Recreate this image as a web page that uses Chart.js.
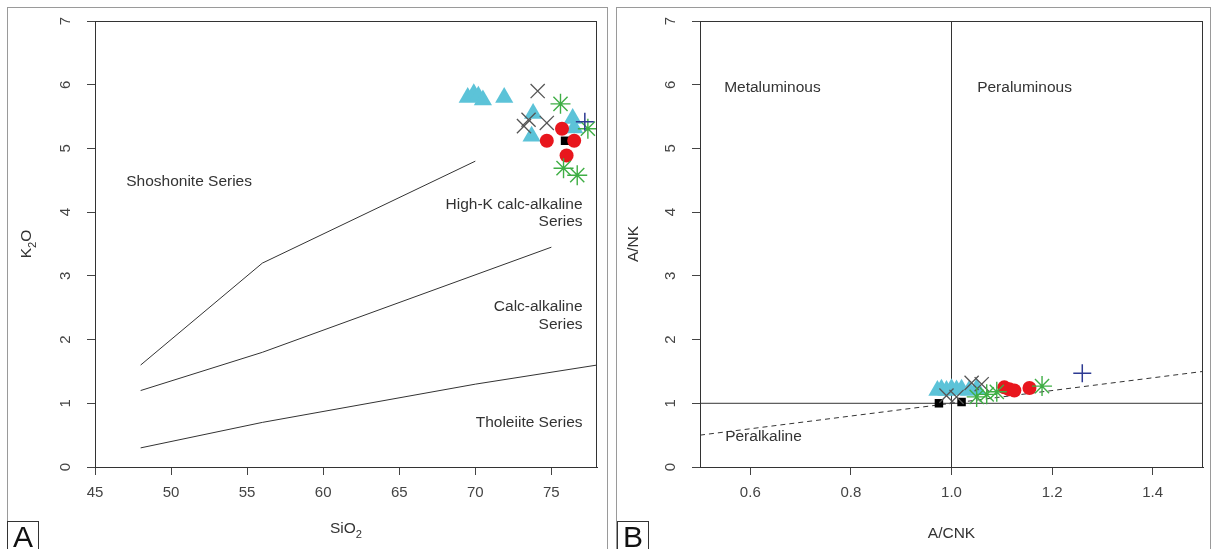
<!DOCTYPE html>
<html>
<head>
<meta charset="utf-8">
<script src="https://cdn.jsdelivr.net/npm/chart.js@4.4.1/dist/chart.umd.min.js"></script>
<style>
  body { margin: 0; width: 1216px; height: 549px; background: #fff; position: relative; overflow: hidden; }
  .panel { position: absolute; border: 1px solid #9a9a9a; box-sizing: border-box; }
  canvas { position: absolute; }
  .tag { position: absolute; border: 1px solid #333; box-sizing: border-box; background: #fff;
         font: 30px "Liberation Sans", Arial, sans-serif; color: #111; text-align: center; line-height: 30px; }
</style>
</head>
<body>
<div class="panel" style="left:7px;top:7px;width:601px;height:560px"></div>
<div class="panel" style="left:616px;top:7px;width:595px;height:560px"></div>
<canvas id="chartA" width="600" height="542" style="left:7px;top:7px"></canvas>
<canvas id="chartB" width="594" height="542" style="left:616px;top:7px"></canvas>
<div class="tag" style="left:7px;top:521px;width:32px;height:34px">A</div>
<div class="tag" style="left:617px;top:521px;width:32px;height:34px">B</div>
<script>
const FONT = '"Liberation Sans", Arial, sans-serif';

// tick values
const yTicks = [0, 1, 2, 3, 4, 5, 6, 7];
const xTicksA = [45, 50, 55, 60, 65, 70, 75];
const xTicksB = [0.6, 0.8, 1.0, 1.2, 1.4];

// panel A: SiO2 vs K2O boundary lines
const shoLineSiO2 = [48, 56, 70];
const shoLineK2O = [1.6, 3.2, 4.8];
const hkLineSiO2 = [48, 56, 75];
const hkLineK2O = [1.2, 1.8, 3.45];
const thLineSiO2 = [48, 56, 70, 78];
const thLineK2O = [0.3, 0.7, 1.3, 1.6];

// panel A samples
const triSiO2 = [69.5, 69.9, 70.2, 70.5, 71.9, 73.8, 73.7, 76.4, 76.5];
const triK2O = [5.8, 5.86, 5.82, 5.76, 5.8, 5.55, 5.19, 5.47, 5.32];
const crossSiO2 = [74.1, 73.2, 73.5, 74.7];
const crossK2O = [5.9, 5.35, 5.45, 5.4];
const dotSiO2 = [74.7, 75.7, 76.5, 76.0];
const dotK2O = [5.12, 5.31, 5.12, 4.89];
const starSiO2 = [75.6, 77.4, 75.8, 76.7];
const starK2O = [5.7, 5.31, 4.69, 4.58];
const plusSiO2 = [77.2];
const plusK2O = [5.42];
const sqSiO2 = [75.9];
const sqK2O = [5.12];

// panel B: A/CNK vs A/NK reference lines
const vLineACNK = [1.0, 1.0];
const vLineANK = [0, 7];
const hLineACNK = [0.5, 1.5];
const hLineANK = [1, 1];
const dashACNK = [0.5, 1.5];
const dashANK = [0.5, 1.5];

// panel B samples
const triACNK = [0.972, 0.98, 0.99, 1.0, 1.01, 1.02, 1.035, 1.05];
const triANK = [1.2, 1.22, 1.2, 1.23, 1.21, 1.22, 1.2, 1.23];
const crossACNK = [1.04, 1.06, 0.99, 1.01];
const crossANK = [1.32, 1.3, 1.12, 1.1];
const dotACNK = [1.105, 1.115, 1.125, 1.155];
const dotANK = [1.25, 1.22, 1.2, 1.24];
const starACNK = [1.05, 1.07, 1.09, 1.18];
const starANK = [1.1, 1.14, 1.18, 1.27];
const plusACNK = [1.26];
const plusANK = [1.47];
const sqACNK = [1.02, 0.975];
const sqANK = [1.02, 1.0];

const zip = (xs, ys) => xs.map((x, i) => ({ x: x, y: ys[i] }));

function lineSet(xs, ys, dash) {
  return { data: zip(xs, ys), showLine: true, pointRadius: 0, borderColor: '#333', borderWidth: 1,
           borderDash: dash || [], order: 10 };
}

function sampleSets(s) {
  return [
    { data: zip(s.tri[0], s.tri[1]), pointStyle: 'triangle', pointRadius: 10.5, backgroundColor: '#5cc3d8', borderWidth: 0, order: 6 },
    { data: zip(s.sq[0], s.sq[1]), pointStyle: 'rect', pointRadius: 6, backgroundColor: '#000', borderWidth: 0, order: 5 },
    { data: zip(s.cross[0], s.cross[1]), pointStyle: 'crossRot', pointRadius: 10, borderColor: '#555', borderWidth: 1.3, order: 4 },
    { data: zip(s.dot[0], s.dot[1]), pointStyle: 'circle', pointRadius: 7, backgroundColor: '#e8161d', borderWidth: 0, order: 3 },
    { data: zip(s.star[0], s.star[1]), pointStyle: 'star', pointRadius: 10, borderColor: '#3fae45', borderWidth: 1.4, order: 2 },
    { data: zip(s.plus[0], s.plus[1]), pointStyle: 'cross', pointRadius: 9, borderColor: '#2d3a92', borderWidth: 1.5, order: 1 }
  ];
}

function drawParts(ctx, parts, cx, cy, size) {
  let w = 0;
  parts.forEach(p => { ctx.font = (p.sub ? size * 0.72 : size) + 'px ' + FONT; w += ctx.measureText(p.t).width; });
  let x = cx - w / 2;
  ctx.textAlign = 'left';
  ctx.textBaseline = 'middle';
  parts.forEach(p => {
    ctx.font = (p.sub ? size * 0.72 : size) + 'px ' + FONT;
    ctx.fillText(p.t, x, cy + (p.sub ? size * 0.35 : 0));
    x += ctx.measureText(p.t).width;
  });
}

function decor(o) {
  return {
    id: 'decor',
    afterDraw(chart) {
      const ctx = chart.ctx, a = chart.chartArea, xs = chart.scales.x, ys = chart.scales.y;
      ctx.save();
      ctx.strokeStyle = '#333';
      ctx.lineWidth = 1;
      ctx.beginPath();
      ctx.moveTo(a.left, Math.round(a.top) + 0.5);
      ctx.lineTo(a.right, Math.round(a.top) + 0.5);
      ctx.moveTo(Math.round(a.right) - 0.5, a.top);
      ctx.lineTo(Math.round(a.right) - 0.5, a.bottom);
      ctx.stroke();

      ctx.fillStyle = '#444';
      ctx.font = '15px ' + FONT;
      ctx.textAlign = 'center';
      ctx.textBaseline = 'middle';
      yTicks.forEach(v => {
        ctx.save();
        ctx.translate(a.left - 29, ys.getPixelForValue(v));
        ctx.rotate(-Math.PI / 2);
        ctx.fillText(String(v), 0, 0);
        ctx.restore();
      });

      ctx.fillStyle = '#333';
      drawParts(ctx, o.xTitle, (a.left + a.right) / 2, o.xTitleY, 15.5);
      ctx.save();
      ctx.translate(o.yTitleX, (a.top + a.bottom) / 2);
      ctx.rotate(-Math.PI / 2);
      drawParts(ctx, o.yTitle, 0, 0, 15.5);
      ctx.restore();

      ctx.font = '15.5px ' + FONT;
      ctx.textBaseline = 'middle';
      o.labels.forEach(l => {
        ctx.textAlign = l.align;
        ctx.fillText(l.text, xs.getPixelForValue(l.x), ys.getPixelForValue(l.y));
      });
      ctx.restore();
    }
  };
}

function baseOptions(xMin, xMax, xTicks, yWidth, fmt) {
  return {
    responsive: false,
    animation: false,
    devicePixelRatio: 1,
    layout: { autoPadding: false, padding: { top: 14, right: 0, left: 0, bottom: 0 } },
    plugins: { legend: { display: false }, tooltip: { enabled: false } },
    scales: {
      x: {
        type: 'linear', min: xMin, max: xMax,
        afterBuildTicks: s => { s.ticks = xTicks.map(v => ({ value: v })); },
        afterFit: s => { s.height = 82; s.paddingLeft = 0; s.paddingRight = 0; },
        ticks: { color: '#444', font: { family: FONT, size: 15 }, padding: 9, callback: fmt },
        grid: { drawOnChartArea: false, drawTicks: true, tickLength: 8, color: '#444' },
        border: { display: true, color: '#333', width: 1 }
      },
      y: {
        type: 'linear', min: 0, max: 7,
        afterBuildTicks: s => { s.ticks = yTicks.map(v => ({ value: v })); },
        afterFit: s => { s.width = yWidth; s.paddingTop = 0; s.paddingBottom = 0; },
        ticks: { color: 'rgba(0,0,0,0)', font: { family: FONT, size: 15 } },
        grid: { drawOnChartArea: false, drawTicks: true, tickLength: 8, color: '#444' },
        border: { display: true, color: '#333', width: 1 }
      }
    }
  };
}

const optsA = baseOptions(45, 78, xTicksA, 88, v => String(v));
optsA.layout.padding.right = 10;
new Chart(document.getElementById('chartA'), {
  type: 'scatter',
  data: {
    datasets: [
      lineSet(shoLineSiO2, shoLineK2O),
      lineSet(hkLineSiO2, hkLineK2O),
      lineSet(thLineSiO2, thLineK2O)
    ].concat(sampleSets({
      tri: [triSiO2, triK2O], sq: [sqSiO2, sqK2O], cross: [crossSiO2, crossK2O],
      dot: [dotSiO2, dotK2O], star: [starSiO2, starK2O], plus: [plusSiO2, plusK2O]
    }))
  },
  options: optsA,
  plugins: [decor({
    xTitle: [{ t: 'SiO' }, { t: '2', sub: true }],
    xTitleY: 522,
    yTitle: [{ t: 'K' }, { t: '2', sub: true }, { t: 'O' }],
    yTitleX: 20,
    labels: [
      { text: 'Shoshonite Series', x: 47.05, y: 4.47, align: 'left' },
      { text: 'High-K calc-alkaline', x: 77.05, y: 4.11, align: 'right' },
      { text: 'Series', x: 77.05, y: 3.85, align: 'right' },
      { text: 'Calc-alkaline', x: 77.05, y: 2.51, align: 'right' },
      { text: 'Series', x: 77.05, y: 2.24, align: 'right' },
      { text: 'Tholeiite Series', x: 77.05, y: 0.69, align: 'right' }
    ]
  })]
});

const optsB = baseOptions(0.5, 1.5, xTicksB, 84, v => Number(v).toFixed(1));
optsB.layout.padding.right = 7;
new Chart(document.getElementById('chartB'), {
  type: 'scatter',
  data: {
    datasets: [
      lineSet(vLineACNK, vLineANK),
      lineSet(hLineACNK, hLineANK),
      lineSet(dashACNK, dashANK, [5, 4])
    ].concat(sampleSets({
      tri: [triACNK, triANK], sq: [sqACNK, sqANK], cross: [crossACNK, crossANK],
      dot: [dotACNK, dotANK], star: [starACNK, starANK], plus: [plusACNK, plusANK]
    }))
  },
  options: optsB,
  plugins: [decor({
    xTitle: [{ t: 'A/CNK' }],
    xTitleY: 527,
    yTitle: [{ t: 'A/NK' }],
    yTitleX: 18,
    labels: [
      { text: 'Metaluminous', x: 0.548, y: 5.96, align: 'left' },
      { text: 'Peraluminous', x: 1.051, y: 5.96, align: 'left' },
      { text: 'Peralkaline', x: 0.55, y: 0.47, align: 'left' }
    ]
  })]
});
</script>
</body>
</html>
